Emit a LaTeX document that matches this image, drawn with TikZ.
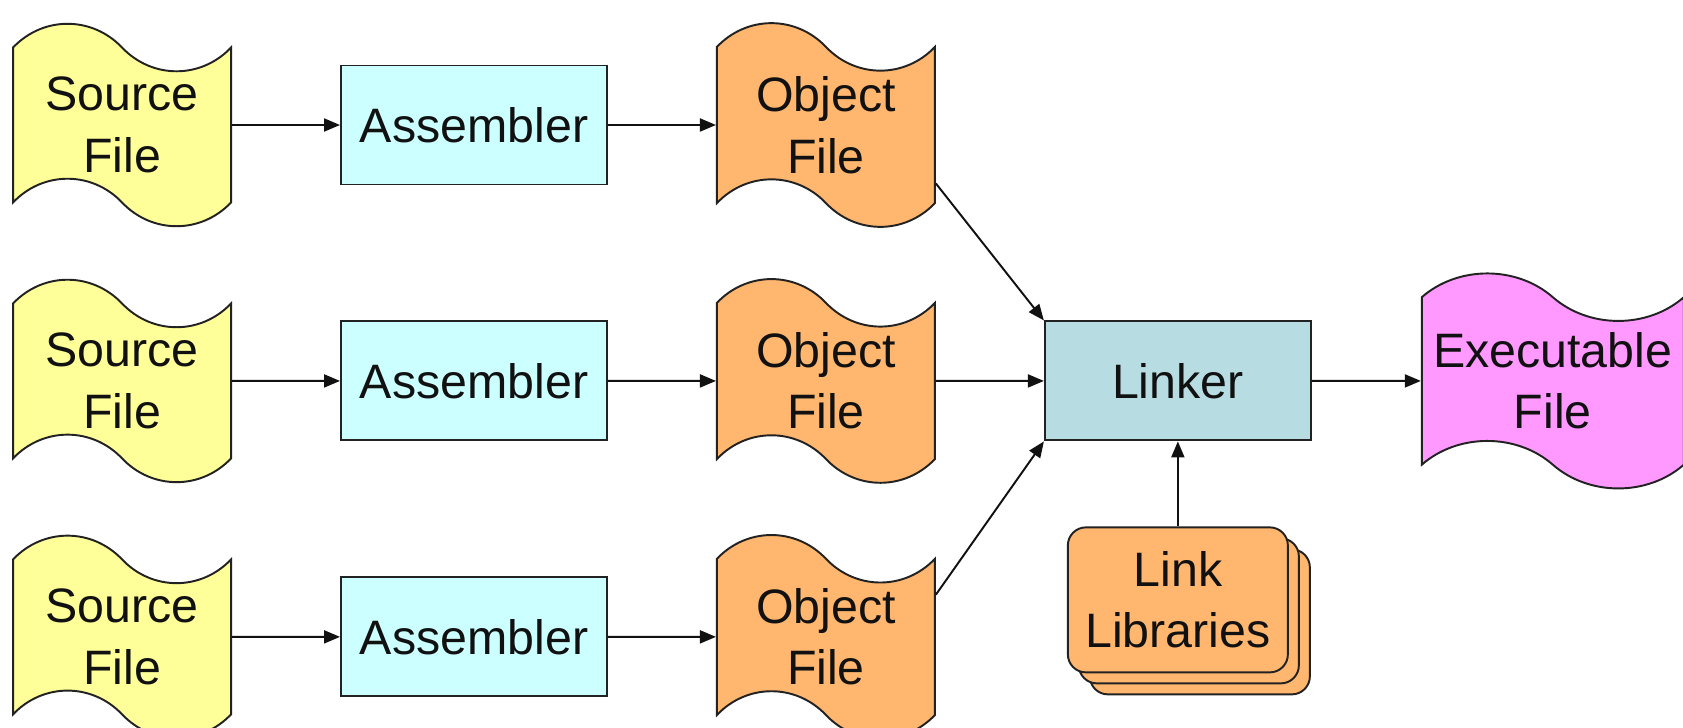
\documentclass[tikz,border=0pt]{standalone}
\usepackage{fontspec}
\setsansfont{Liberation Sans}
\usetikzlibrary{arrows.meta,positioning,shapes.symbols}
\definecolor{ink}{HTML}{111111}
\definecolor{line}{HTML}{222222}
\definecolor{srcA}{HTML}{FFFF99}
\definecolor{asmA}{HTML}{CCFFFF}
\definecolor{objA}{HTML}{FFB66E}
\definecolor{linkA}{HTML}{B7DDE3}
\definecolor{exeA}{HTML}{FF99FF}

\begin{document}
\begin{tikzpicture}[
  font=\sffamily\fontsize{27.5}{35}\selectfont,
  node distance=21.6mm,
  tapefile/.style={
    tape, tape bend top=out and in, tape bend bottom=out and in,
    draw=line, line width=1.1pt, align=center, text=ink,
    minimum width=43.6mm, minimum height=40.4mm, tape bend height=9.5mm
  },
  srcfile/.style={tapefile, fill=srcA},
  objfile/.style={tapefile, fill=objA},
  exefile/.style={tapefile, fill=exeA, minimum width=52.4mm, minimum height=43mm},
  tool/.style={
    draw=line, line width=1.1pt, align=center, text=ink,
    minimum width=53.2mm, minimum height=23.8mm
  },
  libcard/.style={
    draw=line, line width=1.1pt, rounded corners=3.6mm, fill=objA,
    align=center, text=ink, minimum width=44mm, minimum height=29mm
  },
  arrow/.style={-{Triangle[length=3.2mm,width=2.6mm]}, line width=1.1pt, draw=ink}
]

\useasboundingbox (-9.48,-12.04) rectangle (24.18,2.5);

% three assembler rows
\node[tool, fill=asmA] (asm1) {Assembler};
\node[srcfile, left=of asm1] (src1) {Source\\File};
\node[objfile, right=of asm1] (obj1) {Object\\File};

\node[tool, fill=asmA, below=27mm of asm1] (asm2) {Assembler};
\node[srcfile, left=of asm2] (src2) {Source\\File};
\node[objfile, right=of asm2] (obj2) {Object\\File};

\node[tool, fill=asmA, below=27mm of asm2] (asm3) {Assembler};
\node[srcfile, left=of asm3] (src3) {Source\\File};
\node[objfile, right=of asm3] (obj3) {Object\\File};

% linking stage
\node[tool, fill=linkA, right=of obj2] (linker) {Linker};
\node[exefile, right=21.8mm of linker] (exe) {Executable\\File};

\node[libcard, below=17mm of linker, xshift=4.4mm, yshift=-4.4mm] (lib3) {};
\node[libcard, below=17mm of linker, xshift=2.2mm, yshift=-2.2mm] (lib2) {};
\node[libcard, below=17mm of linker] (lib) {Link\\Libraries};

\draw[arrow] (src1) -- (asm1);
\draw[arrow] (asm1) -- (obj1);
\draw[arrow] (src2) -- (asm2);
\draw[arrow] (asm2) -- (obj2);
\draw[arrow] (src3) -- (asm3);
\draw[arrow] (asm3) -- (obj3);

\draw[arrow] (obj1.-28) -- (linker.north west);
\draw[arrow] (obj2) -- (linker);
\draw[arrow] (obj3.21) -- (linker.south west);
\draw[arrow] (linker) -- (exe);
\draw[arrow] (lib) -- (linker);

\end{tikzpicture}
\end{document}
